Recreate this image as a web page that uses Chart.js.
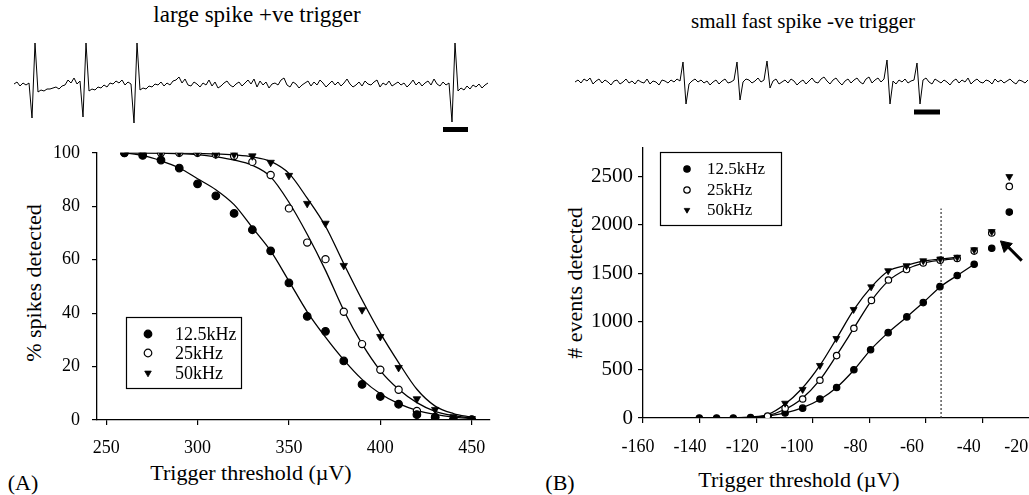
<!DOCTYPE html>
<html>
<head>
<meta charset="utf-8">
<script src="https://cdn.jsdelivr.net/npm/chart.js@4.4.1/dist/chart.umd.min.js"></script>
<style>
  html, body { margin:0; padding:0; background:#fff; overflow:hidden; width:1029px; height:495px }
  body { position:relative; font-family:'Liberation Serif','Times New Roman',serif; color:#000 }
  canvas { position:absolute }
  .t { position:absolute; white-space:nowrap; line-height:1; transform:translate(-50%,-50%) }
  .rot { transform:translate(-50%,-50%) rotate(-90deg) }
</style>
</head>
<body>
<div class="t" style="left:257px;top:14px;font-size:23px">large spike +ve trigger</div>
<div class="t" style="left:803px;top:21px;font-size:21px">small fast spike -ve trigger</div>
<div class="t" style="left:251px;top:473px;font-size:22px">Trigger threshold (µV)</div>
<div class="t" style="left:799px;top:480px;font-size:22px">Trigger threshold (µV)</div>
<div class="t" style="left:23px;top:483px;font-size:22px">(A)</div>
<div class="t" style="left:560px;top:483px;font-size:22px">(B)</div>
<div class="t rot" style="left:34px;top:283px;font-size:22px">% spikes detected</div>
<div class="t rot" style="left:575px;top:283px;font-size:22px"># events detected</div>

<canvas id="trA" width="500" height="105" style="left:0;top:30px;width:500px;height:105px"></canvas>
<canvas id="trB" width="509" height="105" style="left:520px;top:30px;width:509px;height:105px"></canvas>
<canvas id="pA" width="500" height="365" style="left:0;top:130px;width:500px;height:365px"></canvas>
<canvas id="pB" width="560" height="365" style="left:520px;top:130px;width:560px;height:365px"></canvas>

<script>
// ---- example traces (px-like units, + is up), one sample every 3 units ----
const traceA = [
  1, 3, -1, 2, 0, 2,
  -33, 42,
  -7, -5, -6, -4, -4, -3, -2, -4, -1, 0, 5, 2, 7, 1, 4,
  -32, 42,
  -6, -4, -5, -2, -3, 0, -2, 2, 1, 4, 2, 5, 0, 3, 1,
  -38, 42,
  -5, -3, -4, -1, -2, 1, 0, 3, -1, 2, 0, 4, 5, 8, 2, 6, 0, -1, 3, 1,
  -2, 2, 0, 5, -1, 3, -3, -1, 2, 4, 0, -2, 1, 3, -1, 2, 5, 1, 6, -2,
  4, 0, 3, -3, 1, 2, 0, 5, 7, 0, -2, 3, 1, -3, 0, 2, 4, -1, 3, 0,
  5, 2, -2, 1, 4, 0, 3, -1, 2, 6, 1, -2, 0, 3, -1, 4, 1, 0, 3, 5,
  -2, 2, 0, 4, -1, 1, 3, 0, 2, -2, 1, 5, 0, 3, -1, 2, 4, 0, 6, 1,
  -1, 3, 0, 2,
  -37, 42,
  -6, -3, -5, -1, -4, 0, -2, 1, -3, 0, 2
];
const traceB = [
  0, 2, -1, 3, 1, 4, -2, 1, 3, -1, 2, 0, -3, 1, 2, -2, 0, 3, -1, 1,
  -2, 2, 0, -1, 3, -2, 1, 0, -3, 2, 1, -1, 2, 0, 3, 1,
  20, -22,
  -2, 1, 3, 0, 2, -1, 1, -3, 0, 2, -2, 1, 3, -1, 0, 2,
  20, -18,
  0, 3, 2, -1, 1, 4, 0, 2,
  21, -6,
  1, 3, -2, 0, 2, -1, 3, 1, -3, 0, 2, -2, 1, 4, 0, -1, 3, 5, 1, -2,
  2, 4, 0, -3, 1, 3, -1, 2, 4, 0, -2, 3, 5, -1, 2, 4, 0, 3,
  22, -22,
  1, -2, 2, 0, 3, -1, 1, 2,
  19, -22,
  2, 4, 0, -2, 3, 1, -1, 2, 0, -3, 1, 3, -1, 2, 0, 4, -2, 1, 3, 0,
  -1, 2, 1, -2, 3, 0, 2, -1, 1, 3, 0, -2, 2, 1, -1, 2
];
const barAX = [429, 454], barAY = [-44.5, -44.5];
const barBX = [339, 365], barBY = [-30, -30];

// ---- panel A: % spikes detected ----
const thrA   = [260, 270, 280, 290, 300, 310, 320, 330, 340, 350, 360, 370, 380, 390, 400, 410, 420, 430, 440, 450];
const pct125 = [100, 99, 97.3, 94.3, 88.4, 83.9, 77.3, 71.2, 63.3, 51.3, 38.8, 33.2, 22.1, 13.3, 8.8, 5.9, 2.0, 1.0, 0, 0];
const pct25  = [100, 100, 100, 100, 100, 99.4, 98.8, 96.6, 91.7, 79.2, 66.4, 60.2, 40.5, 28.4, 18.8, 11.3, 3.4, 1.1, 0.3, 0.2];
const pct50  = [100, 100, 100, 100, 100, 99.4, 99.4, 98.8, 96.4, 91.5, 81, 73.6, 57.8, 41.2, 31.2, 19.6, 7.9, 3.9, 1.2, 0.5];
const fitA125 = [100, 99, 97, 94.3, 90.3, 86.2, 80.6, 72, 63.3, 52, 40.5, 31, 22.5, 15.2, 9.8, 6.1, 3.6, 2.1, 1.1, 0.5];
const fitA25  = [100, 100, 99.9, 99.7, 99.3, 98.5, 97.3, 95.3, 91, 81.5, 69.5, 56, 41, 28.5, 18.5, 11.5, 6.5, 3.2, 1.6, 0.7];
const fitA50  = [100, 100, 100, 99.9, 99.8, 99.6, 99.2, 98.5, 96.8, 92.3, 83, 72.5, 58.5, 45, 32.5, 21.5, 11.5, 5.2, 2.4, 1.0];
const ticksAX = [250, 300, 350, 400, 450];
const ticksAY = [0, 20, 40, 60, 80, 100];

// ---- panel B: # events detected ----
const thrB125 = [-140.1, -134, -128.1, -122, -115.8, -109.8, -103.6, -97.5, -91.6, -85.5, -79.6, -73.4, -66.8, -61, -55.1, -49, -43, -36.8, -30.6];
const evB125  = [0, 0, 0, 5, 14, 51, 102, 197, 316, 500, 706, 884, 1047, 1195, 1360, 1476, 1592, 1758, 2132];
const thrB25  = [-116, -109.8, -103.6, -97.5, -91.6, -85.5, -79.3, -73.3, -66.9, -61, -55, -49, -43, -36.8, -30.6];
const evB25   = [20, 102, 197, 391, 646, 929, 1218, 1429, 1537, 1605, 1633, 1652, 1728, 1915, 2398];
const thrB50  = [-109.8, -103.6, -97.5, -91.7, -85.6, -79.4, -73.4, -66.9, -61, -55, -49, -43, -36.8, -30.6];
const evB50   = [153, 296, 544, 823, 1124, 1358, 1525, 1577, 1628, 1646, 1665, 1742, 1930, 2500];
const fitBx125 = [-140, -128, -122, -116, -110, -104, -97.5, -91.6, -85.5, -79.6, -73.4, -66.8, -61, -55.1, -49, -43];
const fitB125  = [0, 2, 7, 20, 50, 102, 192, 316, 497, 706, 884, 1047, 1195, 1355, 1476, 1592];
const fitBx    = [-140, -128, -122, -116, -110, -104, -97.5, -91.6, -85.5, -79.3, -73.3, -66.9, -61, -55, -49];
const fitB25   = [0, 3, 8, 25, 88, 198, 395, 650, 930, 1215, 1420, 1540, 1603, 1633, 1652];
const fitB50   = [0, 3, 10, 35, 140, 300, 545, 825, 1122, 1358, 1522, 1580, 1625, 1646, 1665];
const cutX = [-54.7, -54.7], cutY = [0, 2170];
const arrowX = [-26.2, -30.8], arrowY = [1630, 1765];
const arrowHeadX = [-31.9], arrowHeadY = [1785];
const ticksBX = [-160, -140, -120, -100, -80, -60, -40, -20];
const ticksBY = [0, 500, 1000, 1500, 2000, 2500];

const legendLabels = ['12.5kHz', '25kHz', '50kHz'];

Chart.defaults.font.family = "'Liberation Serif', 'Times New Roman', serif";
Chart.defaults.color = '#000';

const pts = (xs, ys) => xs.map((x, i) => ({ x, y: ys[i] }));
const fixTicks = (list) => (axis) => { axis.ticks = list.map(v => ({ value: v })); };

// the printed x labels of panel B sit a little left of their ticks, more so to the right
const nudgeB = { '-160': ['\u2003', ''], '-140': ['\u2002', ''], '-100': ['', '\u2009'], '-20': ['', '\u2003'] };
const labelB = v => { const n = nudgeB[String(v)] || ['', '']; return n[0] + v + n[1]; };

function fitLine(xs, ys, order) {
  return { data: pts(xs, ys), showLine: true, pointRadius: 0, borderColor: '#000',
           borderWidth: 1.3, cubicInterpolationMode: 'monotone', order };
}
function marks(label, xs, ys, kind, r, order) {
  const d = { label, data: pts(xs, ys), showLine: false, pointRadius: r, order,
              pointBorderColor: '#000', pointBorderWidth: 1.2 };
  if (kind === 'dot')  { d.pointStyle = 'circle'; d.pointBackgroundColor = '#000'; }
  if (kind === 'ring') { d.pointStyle = 'circle'; d.pointBackgroundColor = '#fff'; }
  if (kind === 'tri')  { d.pointStyle = 'triangle'; d.pointRotation = 180; d.pointBackgroundColor = '#000'; d.pointBorderWidth = 0.8; }
  return d;
}

function drawMarker(ctx, ds, x, y, r) {
  ctx.save();
  ctx.translate(x, y);
  ctx.rotate((ds.pointRotation || 0) * Math.PI / 180);
  ctx.beginPath();
  if (ds.pointStyle === 'triangle') {
    for (let k = 0; k < 3; k++) {
      const a = k * 2 * Math.PI / 3;
      ctx.lineTo(Math.sin(a) * r, -Math.cos(a) * r);
    }
    ctx.closePath();
  } else {
    ctx.arc(0, 0, r, 0, Math.PI * 2);
  }
  ctx.fillStyle = ds.pointBackgroundColor;
  ctx.fill();
  ctx.lineWidth = ds.pointBorderWidth;
  ctx.strokeStyle = ds.pointBorderColor;
  ctx.stroke();
  ctx.restore();
}

// boxed legend inside the plot, like the original figure
function boxLegend(cfg) {
  return {
    id: 'boxLegend',
    afterDatasetsDraw(chart) {
      const ctx = chart.ctx;
      ctx.save();
      ctx.fillStyle = '#fff';
      ctx.fillRect(cfg.x, cfg.y, cfg.w, cfg.h);
      ctx.strokeStyle = '#000';
      ctx.lineWidth = 1.2;
      ctx.strokeRect(cfg.x + 0.5, cfg.y + 0.5, cfg.w, cfg.h);
      ctx.font = cfg.font;
      ctx.textBaseline = 'middle';
      cfg.items.forEach((di, i) => {
        const ds = chart.data.datasets[di];
        const y = cfg.rows[i];
        drawMarker(ctx, ds, cfg.markX, y, cfg.r);
        ctx.fillStyle = '#000';
        ctx.fillText(ds.label, cfg.textX, y + 1);
      });
      ctx.restore();
    }
  };
}

function axisStyle(extra) {
  return Object.assign({
    grid: { drawOnChartArea: false, drawTicks: true, tickLength: 5, color: '#000', lineWidth: 1.2 },
    border: { display: true, color: '#000', width: 1.3 },
  }, extra);
}

function traceChart(id, values, bx, by, xmin, xmax, ymin, ymax) {
  new Chart(document.getElementById(id), {
    type: 'scatter',
    data: { datasets: [
      { data: values.map((v, i) => ({ x: i * 3, y: v })), showLine: true, pointRadius: 0,
        borderColor: '#000', borderWidth: 1, tension: 0, clip: false },
      { data: pts(bx, by), showLine: true, pointRadius: 0, borderColor: '#000', borderWidth: 5, clip: false },
    ] },
    options: {
      responsive: false, animation: false, events: [],
      layout: { padding: 0 },
      plugins: { legend: { display: false }, tooltip: { enabled: false } },
      scales: {
        x: { type: 'linear', display: false, min: xmin, max: xmax },
        y: { display: false, min: ymin, max: ymax },
      },
    },
  });
}

traceChart('trA', traceA, barAX, barAY, -14, 486, -50, 55);
traceChart('trB', traceB, barBX, barBY, -55, 454, -53, 52);

// ---- panel A ----
new Chart(document.getElementById('pA'), {
  type: 'scatter',
  data: { datasets: [
    marks(legendLabels[0], thrA, pct125, 'dot', 3.8, 0),
    marks(legendLabels[1], thrA, pct25, 'ring', 3.6, 2),
    marks(legendLabels[2], thrA, pct50, 'tri', 4.3, 1),
    fitLine(thrA, fitA125, 5),
    fitLine(thrA, fitA25, 5),
    fitLine(thrA, fitA50, 5),
  ] },
  options: {
    responsive: false, animation: false, events: [],
    layout: { padding: { top: 15, right: 10, left: 0, bottom: 0 } },
    plugins: { legend: { display: false }, tooltip: { enabled: false } },
    scales: {
      x: axisStyle({ type: 'linear', min: 245, max: 460,
        afterFit: s => { s.height = 75; },
        afterBuildTicks: fixTicks(ticksAX),
        ticks: { autoSkip: false, maxRotation: 0, padding: 12, color: '#000', font: { size: 18 },
                 callback: v => String(v) } }),
      y: axisStyle({ min: 0, max: 100,
        afterFit: s => { s.width = 97; },
        afterBuildTicks: fixTicks(ticksAY),
        ticks: { autoSkip: false, padding: 12, color: '#000', font: { size: 18 }, callback: v => String(v) } }),
    },
  },
  plugins: [boxLegend({ x: 126, y: 187, w: 115, h: 71, markX: 148, textX: 175, r: 3.8,
                        rows: [204, 223, 243], items: [0, 1, 2], font: "18px 'Liberation Serif', serif" })],
});

// ---- panel B ----
new Chart(document.getElementById('pB'), {
  type: 'scatter',
  data: { datasets: [
    marks(legendLabels[0], thrB125, evB125, 'dot', 3.2, 3),
    marks(legendLabels[1], thrB25, evB25, 'ring', 3.2, 2),
    marks(legendLabels[2], thrB50, evB50, 'tri', 4, 1),
    fitLine(fitBx125, fitB125, 6),
    fitLine(fitBx, fitB25, 6),
    fitLine(fitBx, fitB50, 6),
    { data: pts(cutX, cutY), showLine: true, pointRadius: 0, borderColor: '#333',
      borderWidth: 1.2, borderDash: [2, 2], order: 7 },
    { data: pts(arrowX, arrowY), showLine: true, pointRadius: 0, borderColor: '#000',
      borderWidth: 3, order: 0, clip: false },
    { data: pts(arrowHeadX, arrowHeadY), showLine: false, pointStyle: 'triangle', pointRotation: -47.5,
      pointRadius: 7, pointBackgroundColor: '#000', pointBorderColor: '#000', pointBorderWidth: 1, order: 0 },
  ] },
  options: {
    responsive: false, animation: false, events: [],
    layout: { padding: { top: 13.6, right: 40.7, left: 0, bottom: 0 } },
    plugins: { legend: { display: false }, tooltip: { enabled: false } },
    scales: {
      x: axisStyle({ type: 'linear', min: -160, max: -20,
        afterFit: s => { s.height = 77; },
        afterBuildTicks: fixTicks(ticksBX),
        ticks: { autoSkip: false, maxRotation: 0, padding: 13, labelOffset: -14, color: '#000',
                 font: { size: 18 }, callback: labelB } }),
      y: axisStyle({ min: 0, max: 2800,
        afterFit: s => { s.width = 123; },
        afterBuildTicks: fixTicks(ticksBY),
        ticks: { autoSkip: false, padding: 5, color: '#000', font: { size: 21 }, callback: v => String(v) } }),
    },
  },
  plugins: [boxLegend({ x: 140, y: 22, w: 121, h: 73, markX: 167, textX: 187, r: 3.2,
                        rows: [39, 60, 80], items: [0, 1, 2], font: "17px 'Liberation Serif', serif" })],
});
</script>
</body>
</html>
